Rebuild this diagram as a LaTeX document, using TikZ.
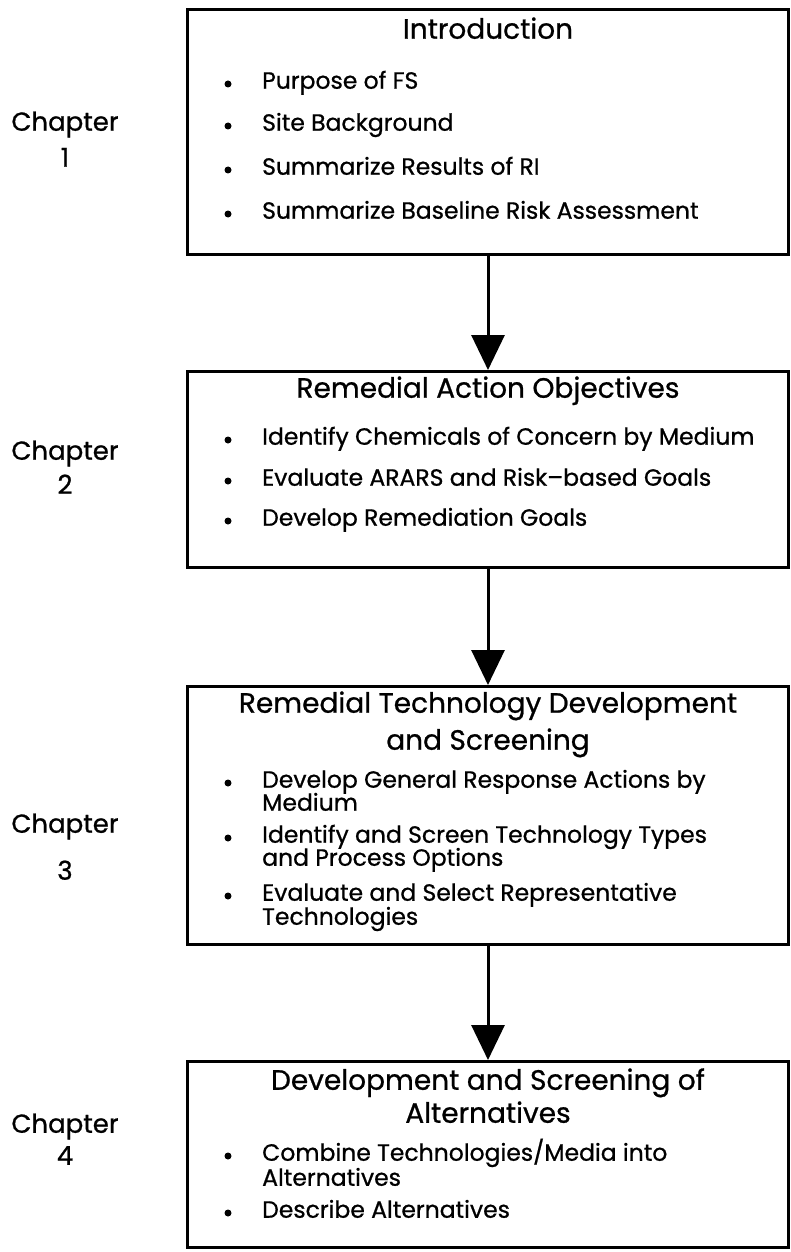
\documentclass[tikz,border=0pt]{standalone}
\usepackage{fontspec}
\setmainfont{Poppins}[FakeBold=0.8]
\usetikzlibrary{arrows.meta}
\begin{document}
\begin{tikzpicture}[x=1pt,y=-1pt,
  stage/.style={draw, line width=3pt, minimum width=601pt, anchor=north west, inner sep=0pt},
  head/.style={font=\fontsize{28}{32}\selectfont, anchor=mid},
  item/.style={font=\fontsize{23.5}{26}\selectfont, anchor=mid west, inner sep=0pt},
  dot/.style={circle, fill, minimum size=7pt, inner sep=0pt, yshift=2pt},
  chap/.style={font=\fontsize{26}{30}\selectfont, anchor=mid},
  flow/.style={line width=3pt, -{Triangle[length=35pt,width=33pt]}}]
\useasboundingbox (0,0) rectangle (790,1252);

% chapter labels
\node[chap] (c1a) at (65,128) {Chapter};
\node[chap] (c1b) at (65,164) {1};
\node[chap] (c2a) at (65,457) {Chapter};
\node[chap] (c2b) at (65,491) {2};
\node[chap] (c3a) at (65,830) {Chapter};
\node[chap] (c3b) at (65,877) {3};
\node[chap] (c4a) at (65,1130) {Chapter};
\node[chap] (c4b) at (65,1162) {4};

% stage boxes
\node[stage, minimum height=245pt] (b1) at (186,8) {};
\node[stage, minimum height=196pt] (b2) at (186,370) {};
\node[stage, minimum height=258pt] (b3) at (186,685) {};
\node[stage, minimum height=186pt] (b4) at (186,1060) {};

% connectors
\draw[flow] (b1.south) -- (b2.north);
\draw[flow] (b2.south) -- (b3.north);
\draw[flow] (b3.south) -- (b4.north);

% box 1
\node[head] (t1) at (b1.north |- 0,36) {Introduction};
\node[dot] (d11) at (228,86) {};
\node[item] (i11) at (262,86) {Purpose of FS};
\node[dot] (d12) at (228,128) {};
\node[item] (i12) at (262,128) {Site Background};
\node[dot] (d13) at (228,172) {};
\node[item] (i13) at (262,172) {Summarize Results of RI};
\node[dot] (d14) at (228,216) {};
\node[item] (i14) at (262,216) {Summarize Baseline Risk Assessment};

% box 2
\node[head] (t2) at (b2.north |- 0,395) {Remedial Action Objectives};
\node[dot] (d21) at (228,442) {};
\node[item] (i21) at (262,442) {Identify Chemicals of Concern by Medium};
\node[dot] (d22) at (228,483) {};
\node[item] (i22) at (262,483) {Evaluate ARARS and Risk--based Goals};
\node[dot] (d23) at (228,523) {};
\node[item] (i23) at (262,523) {Develop Remediation Goals};

% box 3
\node[head] (t3a) at (b3.north |- 0,710) {Remedial Technology Development};
\node[head] (t3b) at (b3.north |- 0,747) {and Screening};
\node[dot] (d31) at (228,785) {};
\node[item] (i31a) at (262,785) {Develop General Response Actions by};
\node[item] (i31b) at (262,808) {Medium};
\node[dot] (d32) at (228,840) {};
\node[item] (i32a) at (262,840) {Identify and Screen Technology Types};
\node[item] (i32b) at (262,863) {and Process Options};
\node[dot] (d33) at (228,898) {};
\node[item] (i33a) at (262,898) {Evaluate and Select Representative};
\node[item] (i33b) at (262,922) {Technologies};

% box 4
\node[head] (t4a) at (b4.north |- 0,1087) {Development and Screening of};
\node[head] (t4b) at (b4.north |- 0,1120) {Alternatives};
\node[dot] (d41) at (228,1158) {};
\node[item] (i41a) at (262,1158) {Combine Technologies/Media into};
\node[item] (i41b) at (262,1183) {Alternatives};
\node[dot] (d42) at (228,1215) {};
\node[item] (i42) at (262,1215) {Describe Alternatives};
\end{tikzpicture}
\end{document}
